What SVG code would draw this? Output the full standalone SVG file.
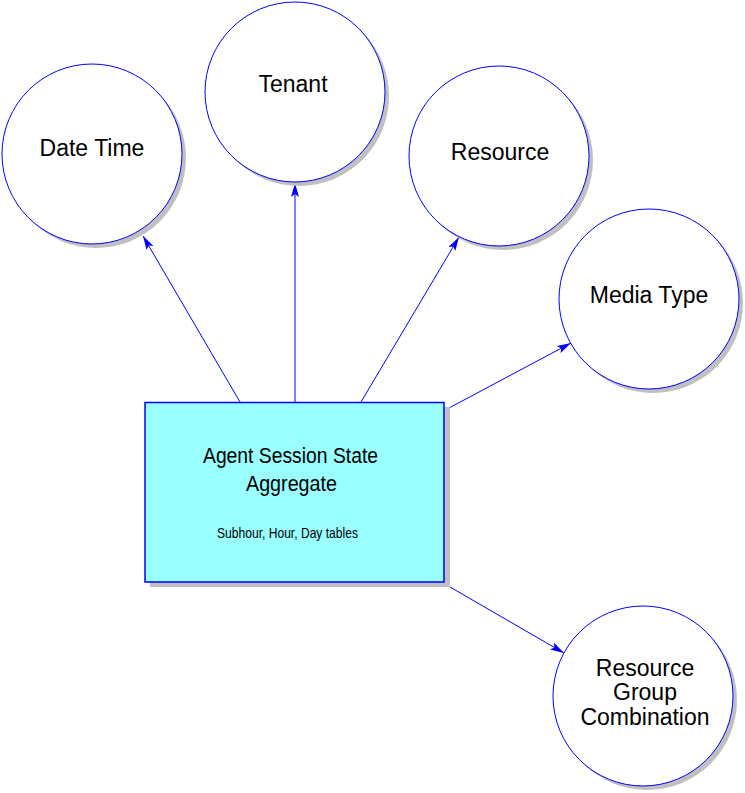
<svg xmlns="http://www.w3.org/2000/svg" width="745" height="793" viewBox="0 0 745 793">
<style>
.shadow{fill:#c0c0c0;stroke:none}
.entity{fill:#ffffff;stroke:#0000ff;stroke-width:1}
.fact{fill:#99ffff;stroke:#0000ff;stroke-width:1.5}
.lbl{font-family:"Liberation Sans",Arial,sans-serif;font-size:23px;fill:#000000;text-anchor:middle}
.title{font-family:"Liberation Sans",Arial,sans-serif;font-size:22px;fill:#000000;text-anchor:middle}
.sub{font-family:"Liberation Sans",Arial,sans-serif;font-size:15px;fill:#000000;text-anchor:middle}
.conn{stroke:#0000ff;stroke-width:1;fill:none;marker-end:url(#arr)}
</style>
<defs>
<marker id="arr" viewBox="0 0 14 8" refX="14" refY="4" markerWidth="14" markerHeight="8" markerUnits="userSpaceOnUse" orient="auto">
<path d="M0,0 L14,4 L0,8 L3,4 Z" fill="#0000ff"/>
</marker>
</defs>
<rect width="745" height="793" fill="#ffffff"/>
<g id="connectors">
<line class="conn" x1="240" y1="402" x2="143" y2="236"/>
<line class="conn" x1="295" y1="402" x2="295" y2="183"/>
<line class="conn" x1="361" y1="402" x2="459" y2="237"/>
<line class="conn" x1="449" y1="408" x2="571" y2="343"/>
<line class="conn" x1="450" y1="587" x2="564" y2="653"/>
</g>
<g id="date-time">
<circle class="shadow" cx="96" cy="158" r="90"/>
<circle class="entity" cx="92" cy="154" r="90"/>
<text class="lbl" x="92" y="156">Date Time</text>
</g>
<g id="tenant">
<circle class="shadow" cx="299" cy="96" r="90"/>
<circle class="entity" cx="295" cy="92" r="90"/>
<text class="lbl" x="293" y="92">Tenant</text>
</g>
<g id="resource">
<circle class="shadow" cx="503" cy="160" r="90"/>
<circle class="entity" cx="499" cy="156" r="90"/>
<text class="lbl" x="500" y="160">Resource</text>
</g>
<g id="media-type">
<circle class="shadow" cx="653" cy="303" r="90"/>
<circle class="entity" cx="649" cy="299" r="90"/>
<text class="lbl" x="649" y="303">Media Type</text>
</g>
<g id="resource-group-combination">
<circle class="shadow" cx="647" cy="700" r="90"/>
<circle class="entity" cx="643" cy="696" r="90"/>
<text class="lbl" x="645" y="676">Resource</text>
<text class="lbl" x="645" y="700">Group</text>
<text class="lbl" x="645" y="725">Combination</text>
</g>
<g id="agent-session-state-aggregate">
<rect class="shadow" x="150" y="407" width="300" height="180"/>
<rect class="fact" x="145" y="402.5" width="299" height="179.5"/>
<text class="title" x="290.5" y="463" textLength="175" lengthAdjust="spacingAndGlyphs">Agent Session State</text>
<text class="title" x="291.5" y="491" textLength="91" lengthAdjust="spacingAndGlyphs">Aggregate</text>
<text class="sub" x="287.5" y="538" textLength="141" lengthAdjust="spacingAndGlyphs">Subhour, Hour, Day tables</text>
</g>
</svg>
